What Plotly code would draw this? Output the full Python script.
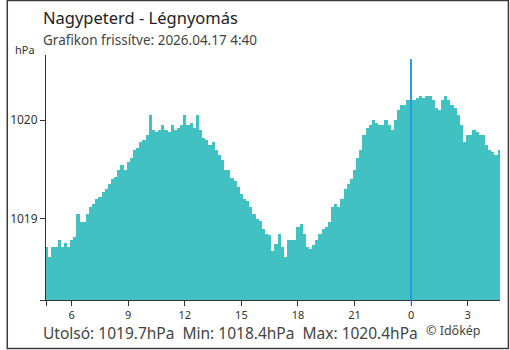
import plotly.graph_objects as go

# ---- data (10-minute readings, from 4:40 to 4:40 next day) ----
start_hour = 4 + 40/60
step_hours = 1/6
pressure = [
    1018.72, 1018.62, 1018.72, 1018.72, 1018.79, 1018.72, 1018.76, 1018.72, 1018.79, 1018.82,
    1019.05, 1018.97, 1018.97, 1019.05, 1019.12, 1019.15, 1019.20, 1019.22, 1019.27, 1019.30,
    1019.35, 1019.40, 1019.43, 1019.50, 1019.55, 1019.50, 1019.58, 1019.62, 1019.70, 1019.72,
    1019.78, 1019.80, 1019.85, 1020.05, 1019.90, 1019.88, 1019.90, 1019.95, 1019.90, 1019.88,
    1019.95, 1019.90, 1019.92, 1019.95, 1020.05, 1019.95, 1019.97, 1019.92, 1020.05, 1019.90,
    1019.82, 1019.80, 1019.75, 1019.78, 1019.70, 1019.65, 1019.60, 1019.50, 1019.50, 1019.42,
    1019.38, 1019.32, 1019.25, 1019.20, 1019.18, 1019.12, 1019.05, 1019.00, 1018.98, 1018.90,
    1018.85, 1018.84, 1018.68, 1018.75, 1018.85, 1018.72, 1018.62, 1018.79, 1018.79, 1018.79,
    1018.92, 1018.95, 1018.85, 1018.72, 1018.70, 1018.74, 1018.79, 1018.85, 1018.90, 1018.92,
    1018.97, 1019.12, 1019.15, 1019.12, 1019.20, 1019.30, 1019.35, 1019.40, 1019.50, 1019.62,
    1019.70, 1019.85, 1019.92, 1019.95, 1020.00, 1019.97, 1019.95, 1019.95, 1020.00, 1019.95,
    1019.90, 1020.00, 1020.10, 1020.15, 1020.15, 1020.20, 1020.20, 1020.20, 1020.22, 1020.25,
    1020.22, 1020.25, 1020.25, 1020.20, 1020.12, 1020.10, 1020.20, 1020.25, 1020.20, 1020.15,
    1020.12, 1020.05, 1019.95, 1019.78, 1019.85, 1019.85, 1019.90, 1019.88, 1019.85, 1019.85,
    1019.75, 1019.70, 1019.68, 1019.65, 1019.70,
]
hours = [start_hour + i * step_hours for i in range(len(pressure))]
midnight_hour = 24
midnight_peak = 1020.62
tick_hours = [6, 9, 12, 15, 18, 21, 24, 27]
tick_labels = ["6", "9", "12", "15", "18", "21", "0", "3"]
y_ticks = [1019, 1020]
y_labels = ["1019", "1020"]

title = "Nagypeterd - Légnyomás"
subtitle = "Grafikon frissítve: 2026.04.17 4:40"
summary = "Utolsó: 1019.7hPa  Min: 1018.4hPa  Max: 1020.4hPa"
credit = "© Időkép"

TEAL = "#41c1c2"
BLUE = "#2a9be0"
FONT = "Noto Sans"

W, H = 510, 350
L, R, T, B = 40, 10, 55, 50
pw, ph = W - L - R, H - T - B

def px(x):
    return (x - L) / pw

def py(y):
    return (H - B - y) / ph

fig = go.Figure()
fig.add_trace(go.Bar(x=hours, y=pressure, marker=dict(color=TEAL, line=dict(width=0)),
                     width=step_hours))
fig.add_trace(go.Bar(x=[midnight_hour], y=[midnight_peak],
                     marker=dict(color=BLUE, line=dict(width=0)), width=0.06))

y_min, y_max = 1018.18, 1020.66
fig.update_layout(
    width=W, height=H, margin=dict(l=L, r=R, t=T, b=B),
    paper_bgcolor="white", plot_bgcolor="white", bargap=0, barmode="overlay",
    showlegend=False,
    font=dict(family=FONT, color="#333333", size=11),
    xaxis=dict(range=[4.64, 28.71], tickmode="array",
               tickvals=[start_hour] + tick_hours, ticktext=[""] + tick_labels,
               ticks="outside", ticklen=5, tickcolor="#333333", showgrid=False,
               showline=True, linecolor="#333333", linewidth=1, zeroline=False,
               tickfont=dict(size=11, color="#333333")),
    yaxis=dict(range=[y_min, y_max], tickmode="array",
               tickvals=[y_min] + y_ticks, ticktext=[""] + y_labels,
               ticks="outside", ticklen=5, tickcolor="#333333", showgrid=False,
               showline=True, linecolor="#333333", linewidth=1, zeroline=False,
               tickfont=dict(size=12, color="#333333")),
)

# blue midnight tick
fig.add_shape(type="line", xref="x", yref="paper", x0=midnight_hour, x1=midnight_hour,
              y0=0, y1=py(305), line=dict(color=BLUE, width=1))

# outer frame
fig.add_shape(type="rect", xref="paper", yref="paper",
              x0=px(0.75), x1=px(508.5), y0=py(348.5), y1=py(0.5),
              line=dict(color="#3c3c3c", width=1.5))

ann = [
    dict(text=title, x=px(35), y=py(18), size=16.5, color="#222222"),
    dict(text=subtitle, x=px(35), y=py(40), size=13.5, color="#444444"),
    dict(text="hPa", x=px(7), y=py(50), size=11, color="#333333"),
    dict(text=summary, x=px(35), y=py(333), size=15.5, color="#444444"),
    dict(text=credit, x=px(423), y=py(330), size=12.5, color="#444444"),
]
for a in ann:
    fig.add_annotation(text=a["text"], xref="paper", yref="paper", x=a["x"], y=a["y"],
                       xanchor="left", yanchor="middle", showarrow=False,
                       font=dict(size=a["size"], color=a["color"], family=FONT))

fig.write_html("out.html")
